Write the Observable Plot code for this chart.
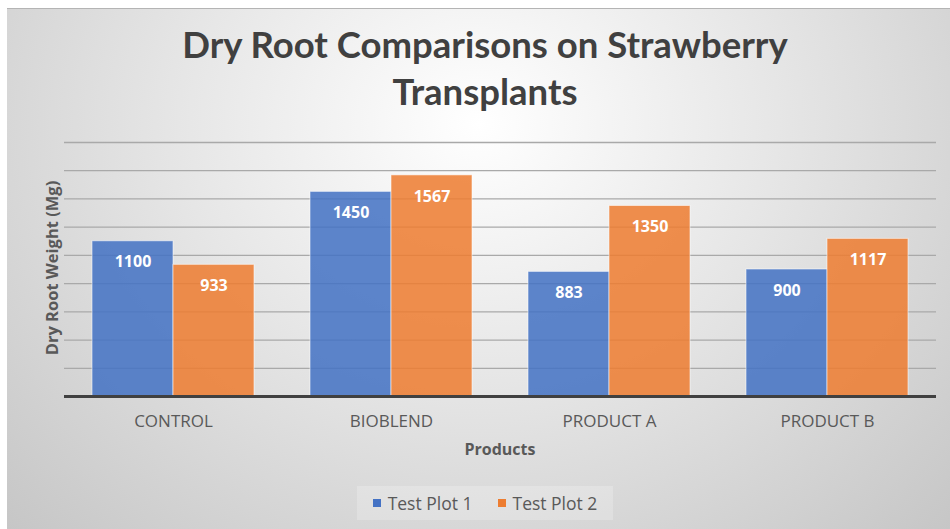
<!DOCTYPE html>
<html>
<head>
<meta charset="utf-8">
<script src="https://cdn.jsdelivr.net/npm/d3@7"></script>
<script src="https://cdn.jsdelivr.net/npm/@observablehq/plot@0.6"></script>
<style>
  body { margin: 0; background: #fff; }
  #page { position: relative; width: 950px; height: 529px; overflow: hidden; background: #fff; }
  #bg { position: absolute; left: 7px; top: 8px; right: 0; bottom: 0;
        border-top: 1px solid #b4b4b4;
        background: radial-gradient(ellipse farthest-corner at 50% 22%, #ffffff 0%, #e6e6e6 45%, #c6c6c6 100%); }
  #chart { position: absolute; left: 0; top: 0; }
  #title { position: absolute; left: 0; top: 21px; width: 970px; text-align: center;
           font-family: Lato, sans-serif; font-weight: 700; font-size: 36.5px; line-height: 47px; color: #404040; }
  #ylabel { position: absolute; left: 51px; top: 268px; transform: translate(-50%, -50%) rotate(-90deg);
            white-space: nowrap; font-family: "Open Sans", sans-serif; font-weight: 700; font-size: 16.5px; color: #595959; }
  #xlabel { position: absolute; left: 500px; top: 449px; transform: translate(-50%, -50%);
            white-space: nowrap; font-family: "Open Sans", sans-serif; font-weight: 700; font-size: 16px; color: #595959; }
  #legend { position: absolute; left: 357px; top: 486px; width: 256px; height: 34px;
            background: rgba(255,255,255,0.22); display: flex; align-items: center; justify-content: center; gap: 25px;
            font-family: "Open Sans", sans-serif; font-size: 17.5px; color: #595959; }
  .item { display: flex; align-items: center; gap: 7px; }
  .sw { width: 8px; height: 8px; }
</style>
</head>
<body>
<div id="page">
  <div id="bg"></div>
  <div id="chart"></div>
  <div id="title"></div>
  <div id="ylabel"></div>
  <div id="xlabel"></div>
  <div id="legend"></div>
</div>
<script>
const titleLines = ["Dry Root Comparisons on Strawberry", "Transplants"];
const yLabel = "Dry Root Weight (Mg)";
const xLabel = "Products";
const products = ["CONTROL", "BIOBLEND", "PRODUCT A", "PRODUCT B"];
const series = ["Test Plot 1", "Test Plot 2"];
const plot1 = [1100, 1450, 883, 900];
const plot2 = [933, 1567, 1350, 1117];
const colors = ["#4472C4", "#ED7D31"];
const gridTicks = [200, 400, 600, 800, 1000, 1200, 1400, 1600, 1800];

const data = [];
products.forEach((p, i) => {
  data.push({product: p, series: series[0], value: plot1[i]});
  data.push({product: p, series: series[1], value: plot2[i]});
});

const chart = Plot.plot({
  width: 950,
  height: 529,
  marginLeft: 63,
  marginRight: 13,
  marginTop: 142,
  marginBottom: 133,
  style: {background: "transparent", fontFamily: "'Open Sans', sans-serif"},
  fx: {domain: products, padding: 0, label: null},
  x: {domain: series, paddingInner: 0, paddingOuter: 0.333, axis: null},
  y: {domain: [0, 1800], axis: null},
  color: {domain: series, range: colors},
  marks: [
    Plot.ruleY(gridTicks, {stroke: "#a9a9a9", strokeWidth: 1.3}),
    Plot.barY(data, {fx: "product", x: "series", y: "value", fill: "series", fillOpacity: 0.86,
                     stroke: "#ffffff", strokeOpacity: 0.55, strokeWidth: 1, inset: 0}),
    Plot.ruleY([0], {stroke: "#404040", strokeWidth: 3}),
    Plot.text(data, {fx: "product", x: "series", y: "value", text: d => String(d.value), dy: 21,
                     fill: "#ffffff", fontWeight: 700, fontSize: 16, fontFamily: "'Open Sans', sans-serif"}),
    Plot.axisFx({anchor: "bottom", tickSize: 0, tickPadding: 18, fontSize: 17, fill: "#595959",
                 fontFamily: "'Open Sans', sans-serif", label: null})
  ]
});
document.getElementById("chart").appendChild(chart);

document.getElementById("title").innerHTML = titleLines.join("<br>");
document.getElementById("ylabel").textContent = yLabel;
document.getElementById("xlabel").textContent = xLabel;
const leg = document.getElementById("legend");
series.forEach((s, i) => {
  const it = document.createElement("div");
  it.className = "item";
  const sw = document.createElement("div");
  sw.className = "sw";
  sw.style.background = colors[i];
  const t = document.createElement("span");
  t.textContent = s;
  it.appendChild(sw); it.appendChild(t);
  leg.appendChild(it);
});
</script>
</body>
</html>
